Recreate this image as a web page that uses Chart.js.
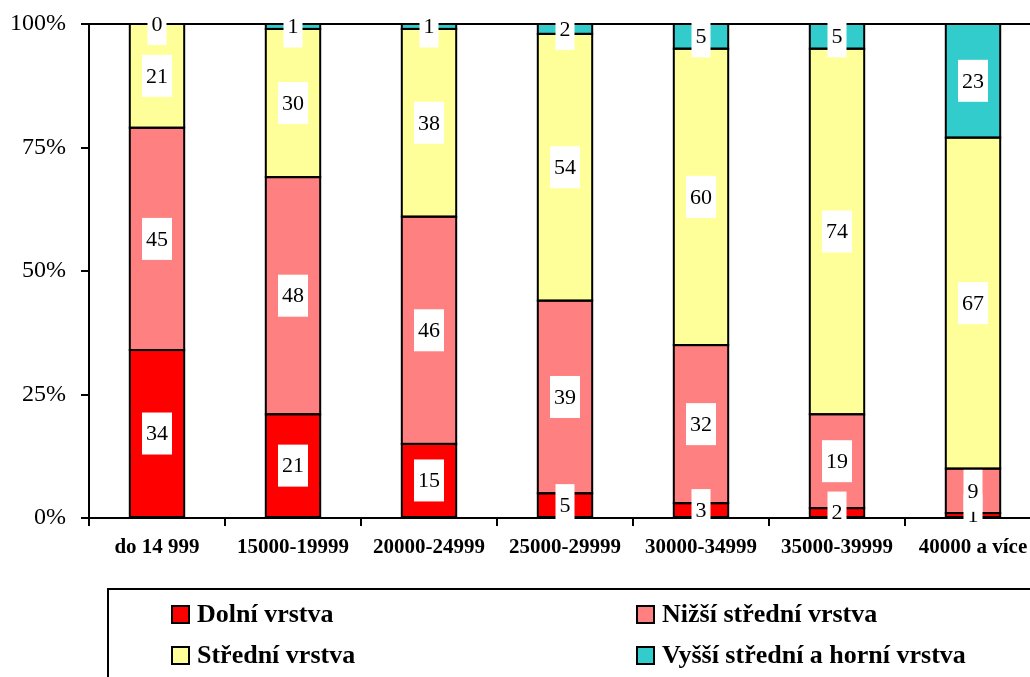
<!DOCTYPE html>
<html lang="cs">
<head>
<meta charset="UTF-8" />
<title>Vrstvy podle příjmu</title>
<script src="https://cdn.jsdelivr.net/npm/chart.js"></script>
<style>
  html, body { margin: 0; padding: 0; background: #fff; overflow: hidden; }
  canvas { display: block; }
</style>
</head>
<body>
<canvas id="graf" width="1045" height="677"></canvas>

<script>
const kategorie = ['do 14 999', '15000-19999', '20000-24999', '25000-29999', '30000-34999', '35000-39999', '40000 a více'];
const dolni    = [34, 21, 15, 5, 3, 2, 1];
const nizsi    = [45, 48, 46, 39, 32, 19, 9];
const stredni  = [21, 30, 38, 54, 60, 74, 67];
const vyssi    = [0, 1, 1, 2, 5, 5, 23];
const nazvy    = ['Dolní vrstva', 'Nižší střední vrstva', 'Střední vrstva', 'Vyšší střední a horní vrstva'];
const barvy    = ['#FF0000', '#FF8080', '#FFFF99', '#33CCCC'];
const osaY     = [0, 25, 50, 75, 100];

const serif = '"Liberation Serif", "Times New Roman", serif';

// obrysy segmentů (jedna čára mezi sousedy) + popisky hodnot v bílých rámečcích
const popisky = {
  id: 'popisky',
  afterDatasetsDraw(chart) {
    const c = chart.ctx;
    c.save();
    c.strokeStyle = '#000';
    c.lineWidth = 2;
    chart.data.datasets.forEach((ds, i) => {
      chart.getDatasetMeta(i).data.forEach(el => {
        const w = el.width;
        c.strokeRect(el.x - w / 2, Math.min(el.y, el.base), w, Math.abs(el.base - el.y));
      });
    });
    c.font = '22px ' + serif;
    c.textAlign = 'center';
    c.textBaseline = 'middle';
    chart.data.datasets.forEach((ds, i) => {
      chart.getDatasetMeta(i).data.forEach((el, j) => {
        const t = String(ds.data[j]);
        const y = (el.y + el.base) / 2;
        const w = c.measureText(t).width + 8;
        c.fillStyle = '#fff';
        c.fillRect(el.x - w / 2, y - 21, w, 42);
        c.fillStyle = '#000';
        c.fillText(t, el.x, y + 1);
      });
    });
    c.restore();
  }
};

// legenda ve dvou sloupcích
const legenda = {
  id: 'legenda',
  afterDraw(chart) {
    const c = chart.ctx;
    c.save();
    c.strokeStyle = '#000';
    c.lineWidth = 2;
    c.strokeRect(108, 589, 1100, 200);
    c.font = 'bold 26px ' + serif;
    c.textBaseline = 'middle';
    const pozice = [[172, 614], [637, 614], [172, 655], [637, 655]];
    nazvy.forEach((nazev, k) => {
      const [x, y] = pozice[k];
      c.fillStyle = barvy[k];
      c.fillRect(x, y - 8, 17, 17);
      c.strokeRect(x, y - 8, 17, 17);
      c.fillStyle = '#000';
      c.fillText(nazev, x + 25, y + 1);
    });
    c.restore();
  }
};

const data = {
  labels: kategorie,
  datasets: [dolni, nizsi, stredni, vyssi].map((d, i) => ({
    label: nazvy[i],
    data: d,
    backgroundColor: barvy[i],
    borderWidth: 0,
    barPercentage: 0.4,
    categoryPercentage: 1
  }))
};

new Chart(document.getElementById('graf'), {
  type: 'bar',
  data: data,
  plugins: [popisky, legenda],
  options: {
    responsive: false,
    devicePixelRatio: 1,
    animation: false,
    layout: { padding: { top: 24, right: 4, left: 0, bottom: 119 } },
    plugins: { legend: { display: false }, tooltip: { enabled: false } },
    scales: {
      x: {
        stacked: true,
        afterFit: s => { s.height = 40; s.paddingLeft = 0; s.paddingRight = 0; },
        border: { color: '#000', width: 2 },
        grid: { drawOnChartArea: false, color: '#000', tickColor: '#000', tickLength: 8, lineWidth: 2 },
        ticks: { color: '#000', padding: 9, maxRotation: 0, font: { family: serif, size: 21, weight: 'bold' } }
      },
      y: {
        stacked: true,
        min: 0,
        max: 100,
        afterFit: s => { s.width = 89; s.paddingTop = 0; s.paddingBottom = 0; },
        afterBuildTicks: s => { s.ticks = osaY.map(v => ({ value: v })); },
        border: { color: '#000', width: 2 },
        grid: {
          color: ctx => ctx.tick && ctx.tick.value === 100 ? '#000' : 'rgba(0,0,0,0)',
          tickColor: '#000', tickLength: 8, lineWidth: 2
        },
        ticks: { color: '#000', padding: 15, callback: v => v + '%', font: { family: serif, size: 24 } }
      }
    }
  }
});
</script>
</body>
</html>
